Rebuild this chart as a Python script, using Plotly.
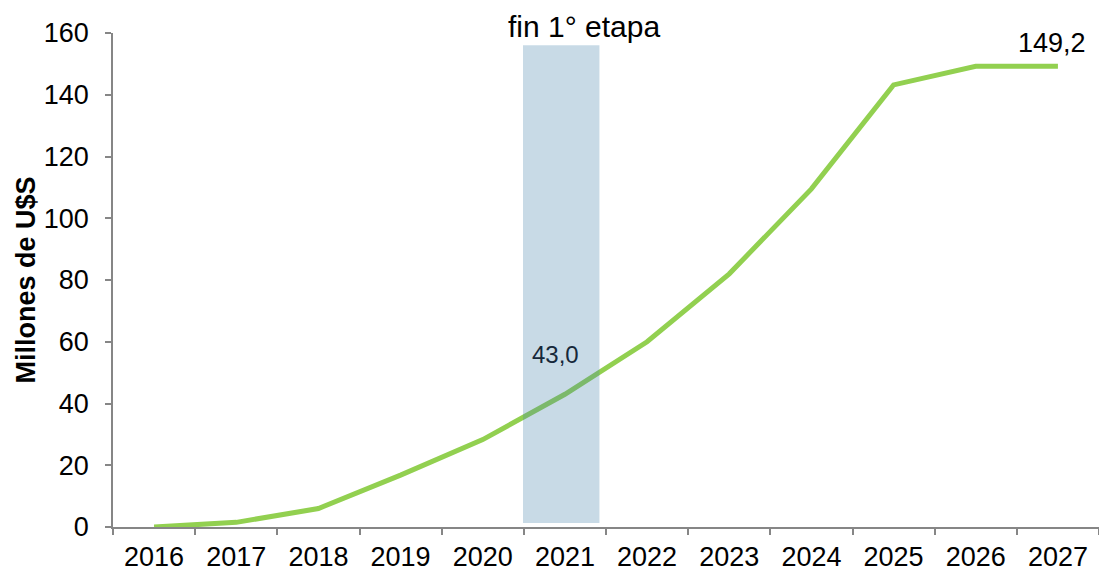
import plotly.graph_objects as go

years = ["2016", "2017", "2018", "2019", "2020", "2021", "2022", "2023", "2024", "2025", "2026", "2027"]
values = [0.0, 1.5, 6.0, 16.8, 28.3, 43.0, 60.0, 82.0, 109.5, 143.2, 149.2, 149.2]
y_ticks = [0, 20, 40, 60, 80, 100, 120, 140, 160]
labelled = {"2021": "43,0", "2027": "149,2"}

FONT = "Arial, Liberation Sans, sans-serif"
AXIS_GRAY = "#868686"

fig = go.Figure()
fig.add_trace(go.Scatter(
    x=years, y=values, mode="lines",
    line=dict(color="#92D050", width=5),
    hoverinfo="x+y", showlegend=False,
))

# shaded band "fin 1° etapa"
fig.add_shape(type="rect", xref="x", yref="y",
              x0=4.49, x1=5.42, y0=1.3, y1=156,
              fillcolor="rgba(72,132,172,0.3)", line=dict(width=0),
              layer="above")

fig.add_annotation(text="fin 1° etapa", xref="x", yref="paper",
                   x=5.23, y=1.013, yanchor="middle", showarrow=False,
                   font=dict(family=FONT, size=30, color="#000000"))

i21 = years.index("2021")
fig.add_annotation(text=labelled["2021"], xref="x", yref="y",
                   x=i21, y=values[i21], xshift=-9, yshift=40,
                   yanchor="middle", showarrow=False,
                   font=dict(family=FONT, size=24, color="#16283A"))
i27 = years.index("2027")
fig.add_annotation(text=labelled["2027"], xref="x", yref="y",
                   x=i27, y=values[i27], xshift=-6, yshift=23,
                   yanchor="middle", showarrow=False,
                   font=dict(family=FONT, size=27, color="#000000"))

fig.update_layout(
    width=1099, height=564,
    margin=dict(l=105, r=8, t=25, b=45),
    paper_bgcolor="white", plot_bgcolor="white",
    font=dict(family=FONT, color="#000000"),
)
fig.update_xaxes(
    type="category", range=[-0.5, 11.5], automargin=False,
    showline=True, linecolor=AXIS_GRAY, linewidth=1.5,
    ticks="outside", ticklen=6, tickcolor=AXIS_GRAY, tickwidth=1.5,
    tickson="boundaries", showgrid=False, zeroline=False,
    ticklabelstandoff=5,
    tickfont=dict(family=FONT, size=27, color="#000000"),
)
fig.update_yaxes(
    range=[0, 160], tickvals=y_ticks, automargin=False,
    showline=True, linecolor=AXIS_GRAY, linewidth=1.5,
    ticks="outside", ticklen=6, tickcolor=AXIS_GRAY, tickwidth=1.5,
    showgrid=False, zeroline=False,
    ticklabelstandoff=11,
    tickfont=dict(family=FONT, size=27, color="#000000"),
    title=dict(text="<b>Millones de U$S</b>", standoff=0,
               font=dict(family=FONT, size=27, color="#000000")),
)

fig.write_html("out.html")
